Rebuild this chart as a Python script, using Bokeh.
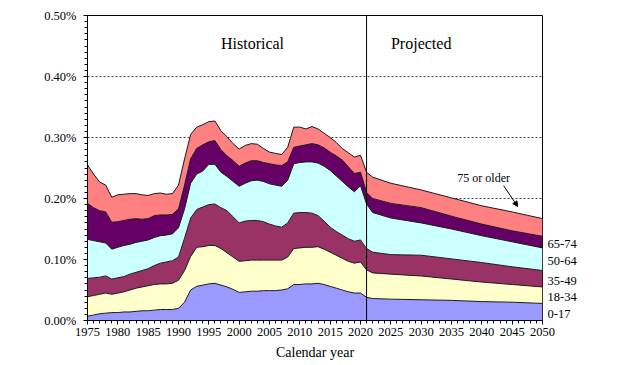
from bokeh.plotting import figure
from bokeh.models import (ColumnDataSource, FixedTicker, PrintfTickFormatter, Span,
                          Label, Arrow, NormalHead, LinearAxis)
from bokeh.embed import file_html
from bokeh.resources import INLINE

# ---- data (share of population, in percent) ----
years = list(range(1975, 2023)) + [2025, 2030, 2035, 2040, 2045, 2050]

age_0_17 = [
    .007, .009, .011, .012, .013,                      # 1975-79
    .013, .014, .014, .015, .016, .016, .017, .018, .018, .018,   # 1980-89
    .020, .030, .050, .056, .058, .060, .061, .058, .055, .051,   # 1990-99
    .046, .047, .048, .048, .049, .049, .049, .050, .052, .059,   # 2000-09
    .059, .060, .060, .061, .059, .056, .053, .050, .047, .045,   # 2010-19
    .045, .038, .036,                                  # 2020-22
    .035, .034, .033, .031, .030, .028]                # 2025-50
age_18_34 = [
    .032, .032, .032, .033, .030,
    .032, .033, .036, .038, .039, .041, .042, .042, .042, .043,
    .046, .052, .055, .064, .063, .063, .062, .060, .056, .053,
    .051, .051, .051, .051, .050, .050, .050, .049, .052, .059,
    .060, .060, .060, .060, .058, .056, .054, .052, .050, .049,
    .051, .045, .042,
    .041, .039, .035, .032, .029, .027]
age_35_49 = [
    .030, .029, .028, .028, .025,
    .025, .025, .026, .026, .027, .028, .031, .034, .036, .037,
    .038, .053, .063, .062, .065, .067, .068, .067, .069, .066,
    .063, .065, .065, .065, .063, .059, .056, .054, .056, .058,
    .058, .057, .056, .051, .046, .041, .039, .038, .037, .036,
    .036, .035, .034,
    .032, .034, .033, .032, .029, .027]
age_50_64 = [
    .064, .061, .058, .054, .049,
    .050, .051, .049, .049, .048, .047, .046, .045, .044, .044,
    .048, .048, .057, .058, .059, .066, .065, .058, .056, .058,
    .060, .062, .065, .066, .066, .066, .067, .067, .070, .081,
    .082, .083, .084, .086, .090, .093, .091, .088, .085, .081,
    .089, .073, .065,
    .060, .053, .049, .044, .041, .037]
age_65_74 = [
    .059, .054, .051, .051, .044,
    .042, .041, .041, .039, .036, .035, .036, .034, .033, .032,
    .031, .039, .040, .042, .043, .037, .039, .037, .034, .034,
    .033, .033, .033, .032, .031, .033, .033, .034, .030, .027,
    .027, .028, .030, .030, .030, .030, .033, .035, .033, .030,
    .022, .019, .023,
    .024, .025, .021, .019, .018, .019]
age_75_plus = [
    .063, .055, .047, .044, .041,
    .044, .043, .042, .041, .040, .038, .036, .036, .034, .034,
    .039, .043, .040, .035, .033, .033, .032, .031, .031, .028,
    .028, .029, .028, .027, .023, .019, .019, .018, .024, .033,
    .031, .026, .028, .026, .024, .024, .022, .019, .023, .027,
    .028, .033, .035,
    .033, .029, .030, .030, .031, .029]

groups = ["0-17", "18-34", "35-49", "50-64", "65-74", "75 or older"]
colors = ["#9999FF", "#FFFFCC", "#993366", "#CCFFFF", "#660066", "#FF8080"]
series = [age_0_17, age_18_34, age_35_49, age_50_64, age_65_74, age_75_plus]

x_ticks = list(range(1975, 2051, 5))
y_ticks = [0.0, 0.1, 0.2, 0.3, 0.4, 0.5]
split_year = 2021
FONT = "Liberation Serif"

keys = ["g%d" % i for i in range(len(groups))]
data = {"year": years}
for k, s in zip(keys, series):
    data[k] = s
src = ColumnDataSource(data)

p = figure(width=616, height=362, x_range=(1975, 2050), y_range=(0, 0.5),
           output_backend="svg", toolbar_location=None,
           min_border_left=87, min_border_right=74, min_border_top=15,
           min_border_bottom=42, background_fill_color="white",
           border_fill_color="white")

p.varea_stack(keys, x="year", source=src, color=colors)
p.vline_stack(keys, x="year", source=src, color="#1a1a1a", line_width=1)

# frame & grid
p.outline_line_color = "black"
p.outline_line_width = 1
p.xgrid.grid_line_color = None
p.ygrid.grid_line_color = "#444444"
p.ygrid.grid_line_dash = "2 2"
p.ygrid.grid_line_width = 1

p.xaxis.ticker = FixedTicker(ticks=x_ticks, minor_ticks=list(range(1975, 2051)))
p.yaxis.ticker = FixedTicker(ticks=y_ticks,
                             minor_ticks=[i / 100 for i in range(0, 51)])
p.yaxis.formatter = PrintfTickFormatter(format="%.2f%%")

for ax in (p.xaxis, p.yaxis):
    ax.axis_line_color = "black"
    ax.major_tick_line_color = "black"
    ax.minor_tick_line_color = "black"
    ax.major_tick_in = 0
    ax.minor_tick_in = 0
    ax.major_tick_out = 4
    ax.minor_tick_out = 3
    ax.major_label_text_font = FONT
    ax.major_label_text_font_size = "12.5px"
    ax.major_label_text_color = "black"

p.yaxis.major_label_standoff = 7
p.xaxis.major_label_standoff = 3
p.xaxis.axis_label = "Calendar year"
p.xaxis.axis_label_text_font = FONT
p.xaxis.axis_label_text_font_size = "14px"
p.xaxis.axis_label_text_font_style = "normal"
p.xaxis.axis_label_text_color = "black"
p.xaxis.axis_label_standoff = 6

# right-side group labels: an unlined axis with ticks at each band's 2050 mid-point
mids = []
cum = 0.0
for s in series[:-1]:
    mids.append(round(cum + s[-1] / 2 - 0.003, 4))
    cum += s[-1]
right = LinearAxis(ticker=FixedTicker(ticks=mids),
                   major_label_overrides={m: g for m, g in zip(mids, groups[:-1])})
right.axis_line_color = None
right.major_tick_line_color = None
right.minor_tick_line_color = None
right.major_tick_out = 0
right.major_label_standoff = 5
right.major_label_text_font = FONT
right.major_label_text_font_size = "12.5px"
right.major_label_text_color = "black"
p.add_layout(right, "right")

p.add_layout(Span(location=split_year, dimension="height",
                  line_color="black", line_width=1))

p.add_layout(Label(x=2002.2, y=0.454, text="Historical", text_align="center",
                   text_baseline="middle", text_font=FONT,
                   text_font_size="16px", text_color="black"))
p.add_layout(Label(x=2030.0, y=0.454, text="Projected", text_align="center",
                   text_baseline="middle", text_font=FONT,
                   text_font_size="16px", text_color="black"))

p.add_layout(Label(x=2040.3, y=0.2344, text=groups[-1], text_align="center",
                   text_baseline="middle", text_font=FONT,
                   text_font_size="12px", text_color="black"))
p.add_layout(Arrow(x_start=2043.6, y_start=0.221, x_end=2045.9, y_end=0.187,
                   line_color="black", line_width=1,
                   end=NormalHead(size=5, line_color="black",
                                  fill_color="black")))

open("out.html", "w").write(file_html(p, INLINE))
